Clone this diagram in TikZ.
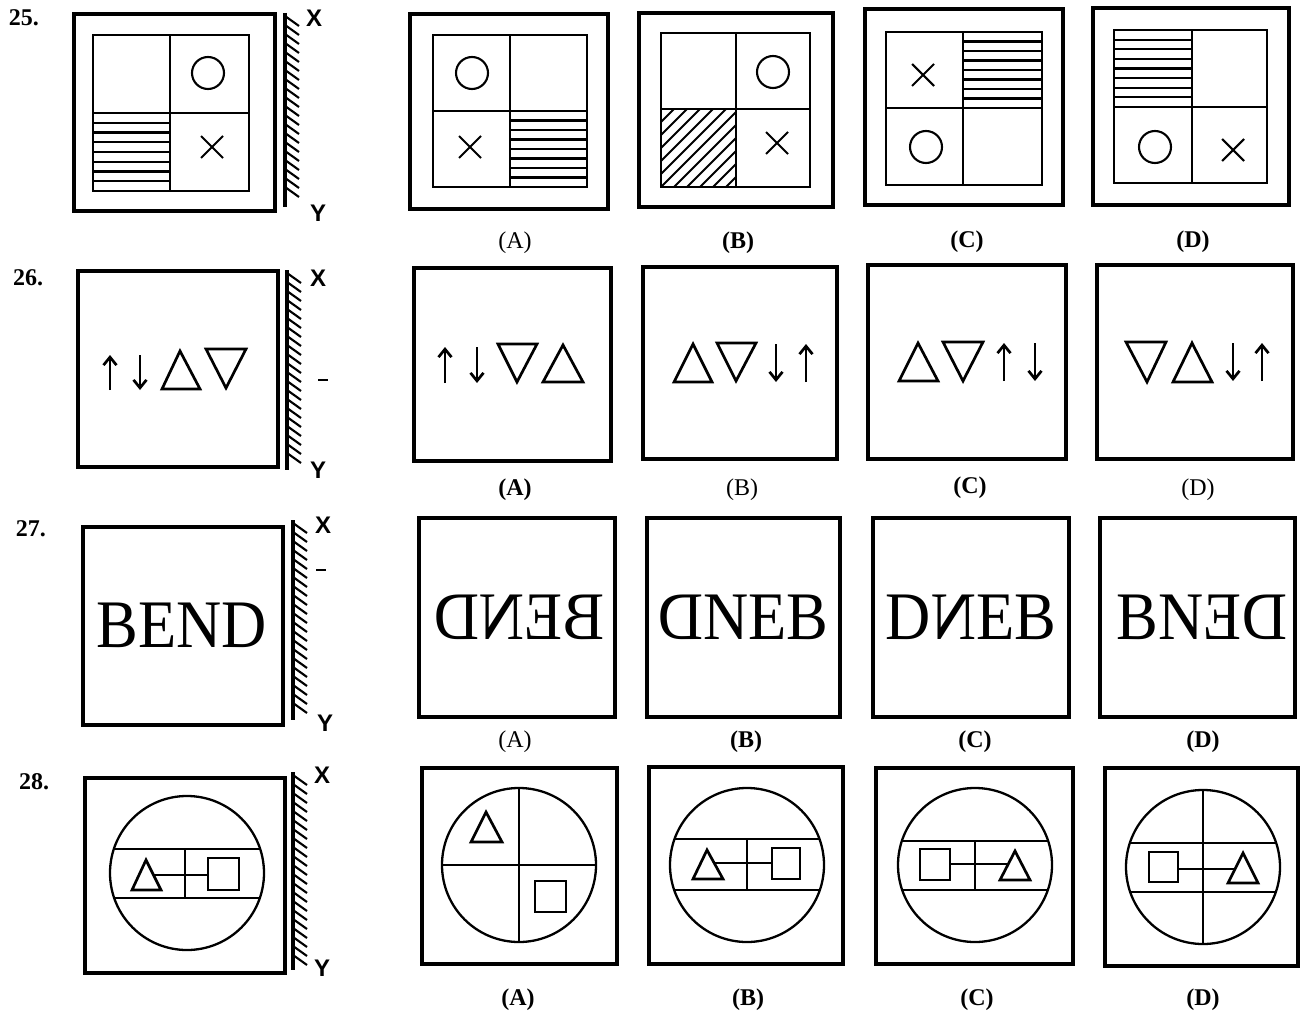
\documentclass[tikz,border=0pt]{standalone}
\usepackage{fontspec}
\setmainfont{Liberation Serif}
\newfontfamily\xyfont{Liberation Sans}
\usetikzlibrary{arrows.meta}
\tikzset{
 obox/.style={line width=3.2pt, line join=miter},
 ibox/.style={line width=2.3pt},
 hl/.style={line width=2.1pt},
 shp/.style={line width=2.7pt, line join=miter},
 mline/.style={line width=3.2pt},
 mtick/.style={line width=2.1pt},
 qnum/.style={font=\bfseries\fontsize{24}{26}\selectfont, inner sep=0pt},
 optlab/.style={font=\fontsize{24}{26}\selectfont, inner sep=0pt},
 optlabb/.style={font=\bfseries\fontsize{24}{26}\selectfont, inner sep=0pt},
 xylab/.style={font=\xyfont\bfseries\fontsize{24}{26}\selectfont, inner sep=0pt},
 bendtxt/.style={font=\fontsize{68}{70}\selectfont, inner sep=0pt},
 arr/.style={line width=2.7pt, -{Straight Barb[length=8pt,width=13pt]}},
}
\newcommand\mirrorat[3]{%
 \draw[mline] (#1,#2) -- (#1,#3);
 \pgfmathsetmacro\mystart{#2+3}
 \pgfmathsetmacro\mynext{#2+12}
 \pgfmathsetmacro\myend{#3-12}
 \foreach \yy in {\mystart,\mynext,...,\myend} \draw[mtick] (#1,\yy) -- ++(14,10);
}
\newcommand\crossat[2]{\draw[hl] (#1,#2) ++(-11,-11) -- ++(22,22) ++(0,-22) -- ++(-22,22);}
\newcommand\circat[2]{\draw[hl] (#1,#2) circle[radius=16];}
\newcommand\hhatch[4]{\foreach \i in {1,...,7}{\pgfmathsetmacro\hy{#2+\i*(#4-#2)/8}\draw[hl] (#1,\hy) -- (#3,\hy);}}
\newcommand\quads[6]{% inner x1 y1 x2 y2, mid x, mid y
 \draw[ibox] (#1,#2) rectangle (#3,#4);
 \draw[ibox] (#5,#2) -- (#5,#4);
 \draw[ibox] (#1,#6) -- (#3,#6);
}
\begin{document}
\begin{tikzpicture}[x=1pt,y=-1pt]
\useasboundingbox (0,0) rectangle (1311,1019);
\fill[white] (0,0) rectangle (1311,1019);

% ================= Row 25 =================
\node[qnum] (n25) at (24,18) {25.};
\draw[obox] (74,14) rectangle (275,211);
\quads{93}{35}{249}{191}{170}{113}
\circat{208}{73}
\crossat{212}{147}
\hhatch{93}{113}{170}{191}
\mirrorat{285}{13}{207}
\node[xylab] (x25) at (314,18) {X};
\node[xylab] (y25) at (318,213) {Y};

% A
\draw[obox] (410,14) rectangle (608,209);
\quads{433}{35}{587}{187}{510}{111}
\circat{472}{73}
\crossat{470}{147}
\hhatch{510}{111}{587}{187}
\node[optlab] (l25a) at (515,243) {(A)};
% B
\draw[obox] (639,13) rectangle (833,207);
\quads{661}{33}{810}{187}{736}{109}
\circat{773}{72}
\crossat{777}{143}
\begin{scope}
 \clip (661,109) rectangle (736,187);
 \foreach \k in {-78,-65,...,78} \draw[hl] ({661+\k},187) -- ++(90,-90);
\end{scope}
\node[optlabb] (l25b) at (738,243) {(B)};
% C
\draw[obox] (865,9) rectangle (1063,205);
\quads{886}{32}{1042}{185}{963}{108}
\crossat{923}{75}
\circat{926}{147}
\hhatch{963}{32}{1042}{108}
\node[optlabb] (l25c) at (967,242) {(C)};
% D
\draw[obox] (1093,8) rectangle (1289,205);
\quads{1114}{30}{1267}{183}{1192}{107}
\hhatch{1114}{30}{1192}{107}
\circat{1155}{147}
\crossat{1233}{150}
\node[optlabb] (l25d) at (1193,242) {(D)};

% ================= Row 26 =================
\node[qnum] (n26) at (28,278) {26.};
\draw[obox] (78,271) rectangle (278,467);
\draw[arr] (110,390) -- (110,355);
\draw[arr] (140,355) -- (140,390);
\draw[shp] (162,389) -- (200,389) -- (180,351) -- cycle;
\draw[shp] (206,349) -- (246,349) -- (226,388) -- cycle;
\mirrorat{287}{270}{470}
\node[xylab] (x26) at (318,278) {X};
\node[xylab] (y26) at (318,470) {Y};
\draw[line width=2pt] (318,380) -- (328,380);
% A
\draw[obox] (414,268) rectangle (611,461);
\draw[arr] (445,383) -- (445,347);
\draw[arr] (477,347) -- (477,383);
\draw[shp] (498,344) -- (537,344) -- (517,382) -- cycle;
\draw[shp] (543,382) -- (583,382) -- (563,345) -- cycle;
\node[optlabb] (l26a) at (515,490) {(A)};
% B
\draw[obox] (643,267) rectangle (837,459);
\draw[shp] (674,382) -- (712,382) -- (693,344) -- cycle;
\draw[shp] (717,343) -- (756,343) -- (736,381) -- cycle;
\draw[arr] (776,344) -- (776,382);
\draw[arr] (806,382) -- (806,344);
\node[optlab] (l26b) at (742,490) {(B)};
% C
\draw[obox] (868,265) rectangle (1066,459);
\draw[shp] (899,381) -- (938,381) -- (918,343) -- cycle;
\draw[shp] (943,342) -- (983,342) -- (963,381) -- cycle;
\draw[arr] (1004,381) -- (1004,343);
\draw[arr] (1035,343) -- (1035,381);
\node[optlabb] (l26c) at (970,488) {(C)};
% D
\draw[obox] (1097,265) rectangle (1293,459);
\draw[shp] (1126,342) -- (1166,342) -- (1147,382) -- cycle;
\draw[shp] (1173,382) -- (1212,382) -- (1192,343) -- cycle;
\draw[arr] (1233,343) -- (1233,381);
\draw[arr] (1262,381) -- (1262,343);
\node[optlab] (l26d) at (1198,490) {(D)};

% ================= Row 27 =================
\node[qnum] (n27) at (31,529) {27.};
\draw[obox] (83,527) rectangle (283,725);
\node[bendtxt] (b0) at (182,625) {\scalebox{0.92}[1]{BEND}};
\mirrorat{293}{520}{720}
\node[xylab] (x27) at (323,525) {X};
\node[xylab] (y27) at (325,723) {Y};
\draw[line width=2pt] (316,570) -- (326,570);
\draw[obox] (419,518) rectangle (615,717);
\node[bendtxt] (bA) at (519,617) {\scalebox{-0.92}[1]{BEND}};
\node[optlab] (l27a) at (515,742) {(A)};
\draw[obox] (647,518) rectangle (840,717);
\node[bendtxt] (bB) at (743,617) {\scalebox{0.92}[1]{\reflectbox{D}NEB}};
\node[optlabb] (l27b) at (746,742) {(B)};
\draw[obox] (873,518) rectangle (1069,717);
\node[bendtxt] (bC) at (971,617) {\scalebox{0.92}[1]{D\reflectbox{N}EB}};
\node[optlabb] (l27c) at (975,742) {(C)};
\draw[obox] (1100,518) rectangle (1295,717);
\node[bendtxt] (bD) at (1202,617) {\scalebox{0.92}[1]{BN\reflectbox{E}\reflectbox{D}}};
\node[optlabb] (l27d) at (1203,742) {(D)};

% ================= Row 28 =================
\node[qnum] (n28) at (34,782) {28.};
\draw[obox] (85,778) rectangle (285,973);
\draw[ibox] (187,873) circle[radius=77];
\begin{scope}
 \clip (187,873) circle[radius=77];
 \draw[ibox] (100,849) -- (280,849);
 \draw[ibox] (100,898) -- (280,898);
\end{scope}
\draw[ibox] (185,849) -- (185,898);
\draw[shp] (132,890) -- (161,890) -- (146,860) -- cycle;
\draw[shp] (208,858) rectangle (239,890);
\draw[ibox] (153.5,875) -- (208,875);
\mirrorat{293}{772}{970}
\node[xylab] (x28) at (322,775) {X};
\node[xylab] (y28) at (322,968) {Y};
% A
\draw[obox] (422,768) rectangle (617,964);
\draw[ibox] (519,865) circle[radius=77];
\draw[ibox] (442,865) -- (596,865);
\draw[ibox] (519,788) -- (519,942);
\draw[shp] (471,842) -- (502,842) -- (486,812) -- cycle;
\draw[shp] (535,881) rectangle (566,912);
\node[optlabb] (l28a) at (518,1000) {(A)};
% B
\draw[obox] (649,767) rectangle (843,964);
\draw[ibox] (747,865) circle[radius=77];
\begin{scope}
 \clip (747,865) circle[radius=77];
 \draw[ibox] (660,839) -- (840,839);
 \draw[ibox] (660,890) -- (840,890);
\end{scope}
\draw[ibox] (747,839) -- (747,890);
\draw[shp] (693,879) -- (723,879) -- (707,850) -- cycle;
\draw[shp] (772,848) rectangle (800,879);
\draw[ibox] (714,863) -- (772,863);
\node[optlabb] (l28b) at (748,1000) {(B)};
% C
\draw[obox] (876,768) rectangle (1073,964);
\draw[ibox] (975,865) circle[radius=77];
\begin{scope}
 \clip (975,865) circle[radius=77];
 \draw[ibox] (890,841) -- (1070,841);
 \draw[ibox] (890,890) -- (1070,890);
\end{scope}
\draw[ibox] (975,841) -- (975,890);
\draw[shp] (920,849) rectangle (950,880);
\draw[shp] (1000,880) -- (1030,880) -- (1015,851) -- cycle;
\draw[ibox] (950,864) -- (1008,864);
\node[optlabb] (l28c) at (977,1000) {(C)};
% D
\draw[obox] (1105,768) rectangle (1298,966);
\draw[ibox] (1203,867) circle[radius=77];
\begin{scope}
 \clip (1203,867) circle[radius=77];
 \draw[ibox] (1120,843) -- (1290,843);
 \draw[ibox] (1120,892) -- (1290,892);
 \draw[ibox] (1203,785) -- (1203,950);
\end{scope}
\draw[shp] (1149,852) rectangle (1178,882);
\draw[shp] (1228,883) -- (1258,883) -- (1243,853) -- cycle;
\draw[ibox] (1178,869) -- (1235,869);
\node[optlabb] (l28d) at (1203,1000) {(D)};
\end{tikzpicture}
\end{document}
